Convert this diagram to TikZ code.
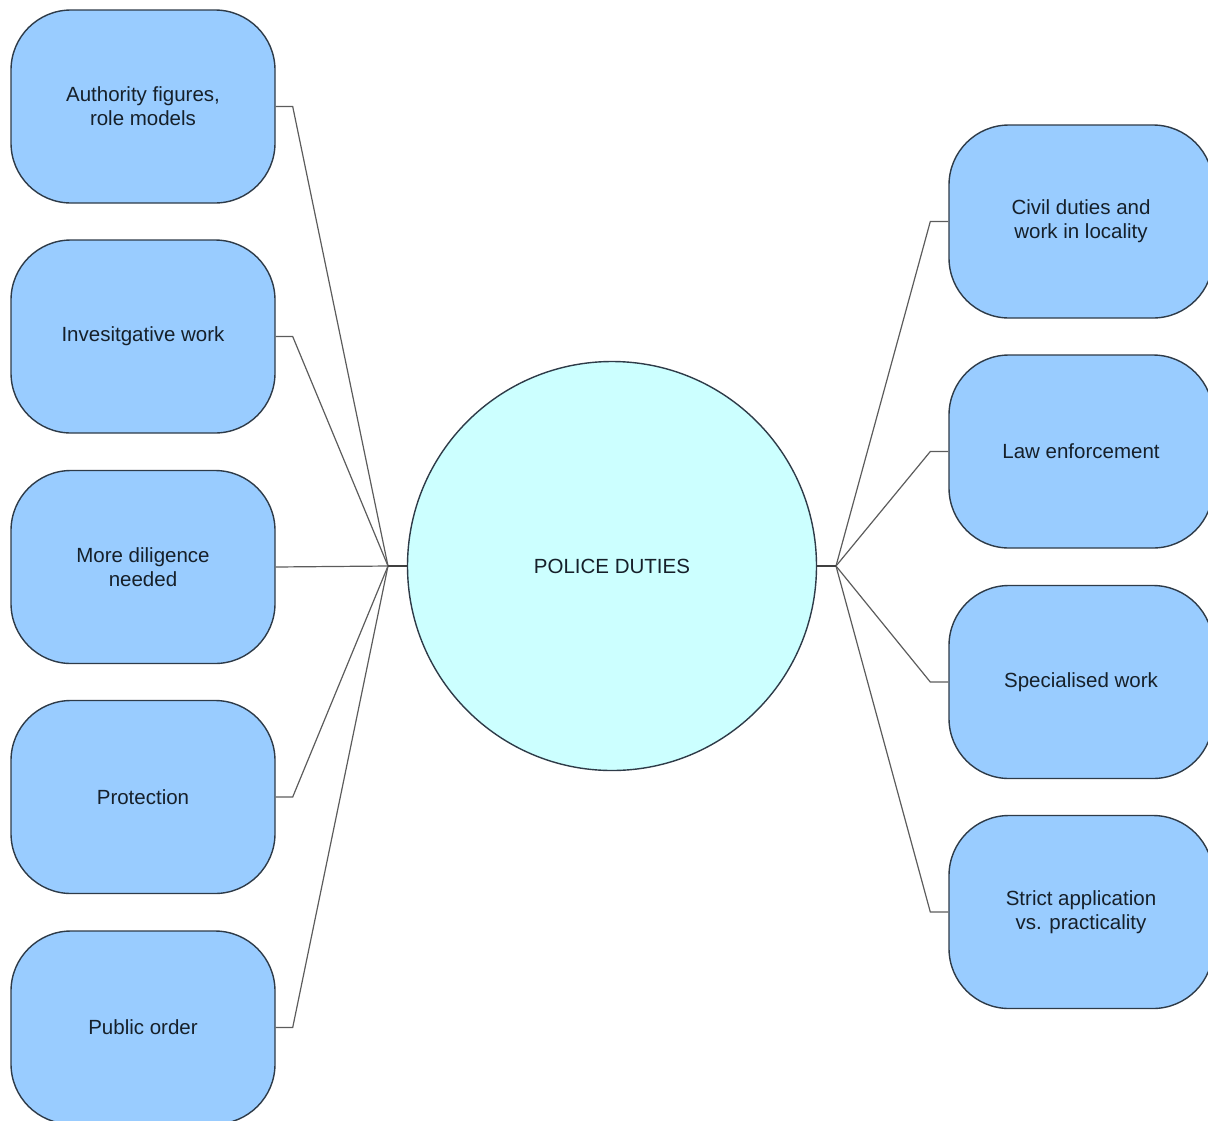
\documentclass[tikz,border=0pt]{standalone}
\usepackage{fontspec}
\setmainfont{Liberation Sans}
\definecolor{boxfill}{HTML}{99CCFF}
\definecolor{hubfill}{HTML}{CCFFFF}
\definecolor{edgeline}{HTML}{2E3B48}
\definecolor{linkline}{HTML}{5C5C5C}
\definecolor{txt}{HTML}{16202A}
\begin{document}
\begin{tikzpicture}[x=1pt,y=-1pt,
  topic/.style={draw=edgeline, line width=1.4pt, fill=boxfill, rounded corners=60pt,
    minimum width=264pt, minimum height=193pt, align=center, text=txt,
    font=\fontsize{20.5}{24}\selectfont, inner sep=0pt},
  hub/.style={draw=edgeline, line width=1.4pt, fill=hubfill, circle,
    minimum size=409pt, inner sep=0pt, text=txt, font=\fontsize{20.5}{24}\selectfont},
  link/.style={draw=linkline, line width=1.2pt},
  stub/.style={draw=linkline!70!black, line width=2pt}]
\useasboundingbox (0,0) rectangle (1208,1120);

% central topic
\node[hub] (c) at (612,566) {POLICE DUTIES};

% left-hand branches
\node[topic] (l1) at (143,106.5) {Authority figures,\\role models};
\node[topic] (l2) at (143,336.5) {Invesitgative work};
\node[topic] (l3) at (143,567) {More diligence\\needed};
\node[topic] (l4) at (143,797) {Protection};
\node[topic] (l5) at (143,1027.5) {Public order};

% right-hand branches
\node[topic] (r1) at (1081,221.5) {Civil duties and\\work in locality};
\node[topic] (r2) at (1081,451.5) {Law enforcement};
\node[topic] (r3) at (1081,682) {Specialised work};
\node[topic] (r4) at (1081,912) {Strict application\\vs. practicality};

% branch hubs beside the circle
\coordinate (lh) at (388,566);
\coordinate (rh) at (836,566);

\foreach \b in {l1,l2,l4,l5}
  \draw[link] (lh) -- ([xshift=17pt]\b.east) -- (\b.east);
\draw[link] (lh) -- (l3.east);
\foreach \b in {r1,r2,r3,r4}
  \draw[link] (rh) -- ([xshift=-18pt]\b.west) -- (\b.west);

\draw[stub] (c.west) -- (lh);
\draw[stub] (c.east) -- (rh);
\end{tikzpicture}
\end{document}
